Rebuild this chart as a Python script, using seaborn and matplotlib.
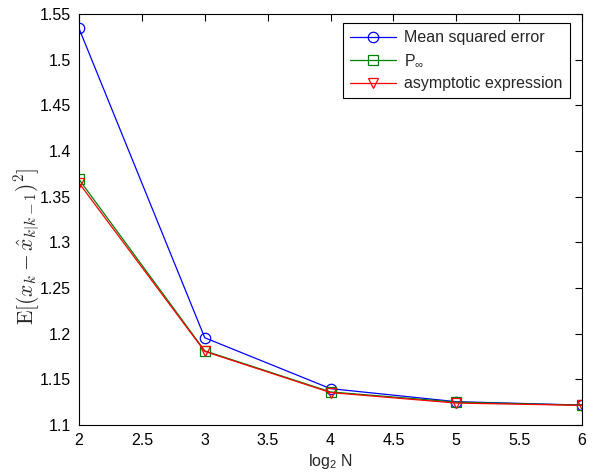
import pandas as pd
import matplotlib
matplotlib.use('Agg')
import matplotlib.pyplot as plt
import seaborn as sns

# values
log2_n = [2, 3, 4, 5, 6]
mse = [1.5343, 1.1955, 1.1398, 1.1255, 1.1218]
p_inf = [1.3690, 1.1812, 1.1362, 1.1250, 1.1216]
asymptotic = [1.3650, 1.1805, 1.1355, 1.1240, 1.1215]

series = [
    ('Mean squared error', mse, 'blue', 'o'),
    (r'P$_{\infty}$', p_inf, 'green', 's'),
    ('asymptotic expression', asymptotic, 'red', 'v'),
]

x_ticks = [2, 2.5, 3, 3.5, 4, 4.5, 5, 5.5, 6]
y_ticks = [1.1, 1.15, 1.2, 1.25, 1.3, 1.35, 1.4, 1.45, 1.5, 1.55]

sns.set_style('white')
plt.rcParams['font.family'] = ['Liberation Sans', 'DejaVu Sans']
plt.rcParams['mathtext.fontset'] = 'custom'
plt.rcParams['mathtext.rm'] = 'Liberation Sans'
plt.rcParams['mathtext.it'] = 'Liberation Sans:italic'

fig = plt.figure(figsize=(5.97, 4.75), dpi=100)
ax = fig.add_axes([0.1323, 0.1053, 0.8427, 0.8652])

for label, values, color, marker in series:
    df = pd.DataFrame({'x': log2_n, 'y': values})
    sns.lineplot(data=df, x='x', y='y', ax=ax, color=color, marker=marker,
                 markersize=7.5, markerfacecolor='none', markeredgecolor=color,
                 markeredgewidth=0.9, linewidth=0.9, label=label)

ax.set_xlim(2, 6)
ax.set_ylim(1.1, 1.55)
ax.set_xticks(x_ticks)
ax.set_xticklabels(['2', '2.5', '3', '3.5', '4', '4.5', '5', '5.5', '6'])
ax.set_yticks(y_ticks)
ax.set_yticklabels(['1.1', '1.15', '1.2', '1.25', '1.3', '1.35', '1.4', '1.45', '1.5', '1.55'])
ax.tick_params(direction='in', length=5, width=0.8, top=True, right=True,
               labelsize=11.5, colors='black', pad=6)
for s in ax.spines.values():
    s.set_color('black')
    s.set_linewidth(0.8)

ax.set_xlabel(r'log$_2$ N', fontsize=11.5, labelpad=3)
ax.set_ylabel(r'$\mathrm{E}[(x_k-\hat{x}_{k|k-1})^2]$', fontsize=15.5,
              math_fontfamily='cm', va='center')
ax.yaxis.set_label_coords(-0.102, 0.435)

leg = ax.legend(loc='upper right', bbox_to_anchor=(0.976, 0.978), fontsize=11.5,
                fancybox=False, framealpha=1, edgecolor='black', handlelength=2.9,
                borderpad=0.45, labelspacing=0.45, handletextpad=0.5, borderaxespad=0)
leg.get_frame().set_linewidth(0.8)

fig.savefig('out.png', dpi=100)
